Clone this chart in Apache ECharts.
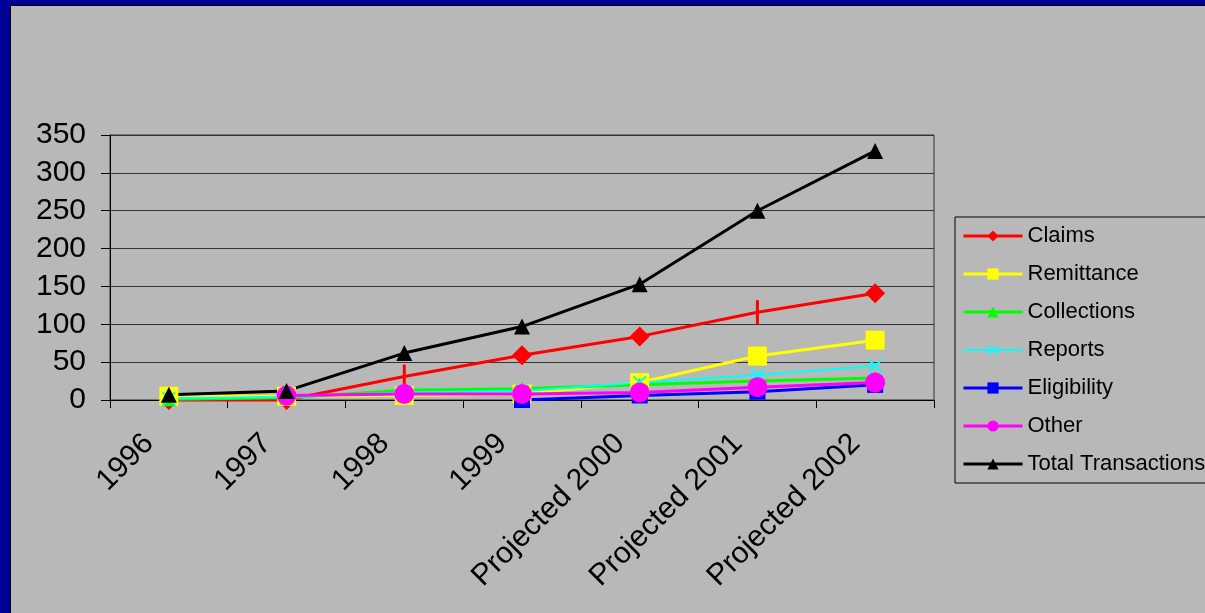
<!DOCTYPE html>
<html>
<head>
<meta charset="utf-8">
<script src="https://cdn.jsdelivr.net/npm/echarts@6/dist/echarts.min.js"></script>
<style>
  html, body { margin: 0; padding: 0; background: #000099; width: 1205px; height: 613px; overflow: hidden; }
  #frame { position: absolute; left: 10px; top: 5px; border-left: 1px solid #000; border-top: 1px solid #000; }
  #main { width: 1194px; height: 607px; background: #b8b8b8; }
</style>
</head>
<body>
<div id="frame"><div id="main"></div></div>
<script>
// values
var categories = ['1996', '1997', '1998', '1999', 'Projected 2000', 'Projected 2001', 'Projected 2002'];
var claims      = [0, 0, 31, 59, 84, 116, 141];
var remittance  = [5, 5, 6, 8, 23, 58, 79];
var collections = [1, 3, 13, 15, 20, 25, 29];
var reports     = [2, 4, 10, 12, 23, 33, 45];
var eligibility = [null, null, null, 0, 6, 11, 20];
var other       = [null, 6, 8, 8, 10, 17, 23];
var total       = [7, 12, 62, 97, 153, 250, 329];
var yTicks = [0, 50, 100, 150, 200, 250, 300, 350];

var font = "'Liberation Sans', Arial, sans-serif";
var crossPath = 'path://M0,1L1,0L5,4L9,0L10,1L6,5L10,9L9,10L5,6L1,10L0,9L4,5Z';
var barPath = 'path://M0,0h1v10h-1z';

// claims markers at 1998 and 2001 show up as thin vertical dashes
var claimsData = claims.map(function (v, i) {
    if (i === 2 || i === 5) {
        return { value: v, symbol: barPath, symbolSize: [3, 24] };
    }
    return v;
});

var myChart = echarts.init(document.getElementById('main'));

function lineSeries(name, data, color, symbol, size, width) {
    return {
        name: name,
        type: 'line',
        data: data,
        symbol: symbol,
        symbolSize: size,
        showAllSymbol: true,
        clip: false,
        lineStyle: { color: color, width: width },
        itemStyle: { color: color, borderWidth: 0 },
        emphasis: { disabled: true }
    };
}

function legendItem(name, width) {
    return { name: name, lineStyle: { width: width }, itemStyle: { borderWidth: 0 } };
}

var option = {
    animation: false,
    backgroundColor: '#b8b8b8',
    textStyle: { fontFamily: font },
    grid: {
        left: 99,
        top: 129,
        width: 824,
        height: 265,
        show: true,
        borderColor: '#333',
        borderWidth: 1,
        backgroundColor: 'transparent'
    },
    legend: {
        orient: 'vertical',
        left: 944,
        top: 211,
        padding: [8, 10, 8, 7],
        itemWidth: 59,
        itemHeight: 14,
        itemGap: 16,
        borderColor: '#000',
        borderWidth: 1,
        backgroundColor: '#b8b8b8',
        textStyle: { color: '#000', fontSize: 22, lineHeight: 22, fontFamily: font },
        data: [
            legendItem('Claims', 3),
            legendItem('Remittance', 3),
            legendItem('Collections', 3),
            legendItem('Reports', 2),
            legendItem('Eligibility', 3),
            legendItem('Other', 3),
            legendItem('Total Transactions', 3)
        ]
    },
    xAxis: {
        type: 'category',
        data: categories,
        boundaryGap: true,
        axisLine: { lineStyle: { color: '#000', width: 1 } },
        axisTick: { show: true, length: 8, alignWithLabel: false, lineStyle: { color: '#000' } },
        axisLabel: {
            rotate: 45,
            interval: 0,
            margin: 19,
            padding: [0, 28, 0, 0],
            color: '#000',
            fontSize: 30,
            fontFamily: font
        },
        splitLine: { show: false }
    },
    yAxis: {
        type: 'value',
        min: yTicks[0],
        max: yTicks[yTicks.length - 1],
        interval: 50,
        axisLine: { show: true, lineStyle: { color: '#000', width: 1 } },
        axisTick: { show: true, length: 9, lineStyle: { color: '#000' } },
        axisLabel: { color: '#000', fontSize: 30, margin: 24, fontFamily: font },
        splitLine: { show: true, lineStyle: { color: '#333', width: 1 } }
    },
    series: [
        lineSeries('Claims', claimsData, '#ff0000', 'diamond', 20, 3),
        lineSeries('Remittance', remittance, '#ffff00', 'rect', 19, 3),
        lineSeries('Collections', collections, '#00ff00', 'triangle', 14, 3),
        lineSeries('Reports', reports, '#00ffff', crossPath, 14, 2),
        lineSeries('Eligibility', eligibility, '#0000ff', 'rect', 16, 3),
        lineSeries('Other', other, '#ff00ff', 'circle', 20, 3),
        lineSeries('Total Transactions', total, '#000000', 'triangle', 16, 3)
    ]
};

myChart.setOption(option);
</script>
</body>
</html>
